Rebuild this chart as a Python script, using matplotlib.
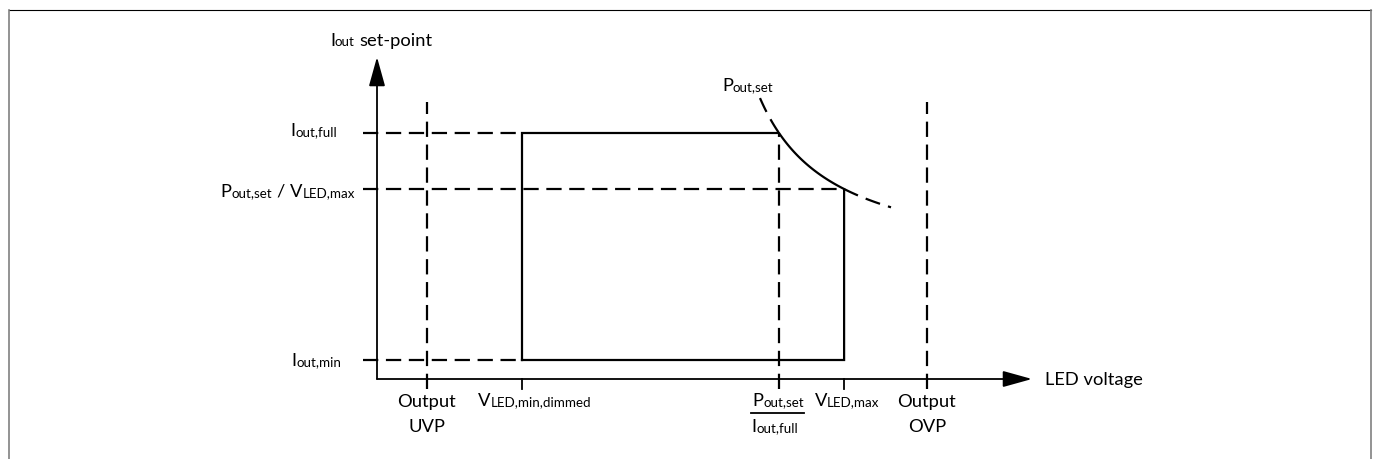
import matplotlib
matplotlib.use("Agg")
import matplotlib.pyplot as plt
import matplotlib.transforms as mtransforms
from matplotlib.lines import Line2D
import numpy as np

plt.rcParams["font.family"] = ["Lato", "DejaVu Sans"]
plt.rcParams["lines.scale_dashes"] = False

# schematic operating window (arbitrary units, current axis crosses at axis_v/axis_i)
axis_v = -30.9
axis_i = -1.10
x_axis_end = 34.6
y_axis_end = 2.12
uvp_v = -25.9
v_min_dimmed = -16.4
ovp_v = 24.1
i_full = 1.36
i_pv = 0.80
i_min = -0.91
p_out_set = 12.648
curve_v_span = [7.4, 20.5]
guide_top_i = 1.67

v_knee = p_out_set / i_full
v_max = p_out_set / i_pv

BIG = 13.2
SMALL = 9.6
LW = 1.6
DASH = (0, (11, 5.5))

fig = plt.figure(figsize=(13.74, 4.6), dpi=100)
ax = fig.add_axes([0, 0, 1, 1])
ax.set_xlim(-68.6, 68.8)
ax.set_ylim(-1.90, 2.70)
ax.axis("off")
renderer = fig.canvas.get_renderer()

tick_down = axis_i - 0.10
tick_left = axis_v - 1.4

# axes with arrows
arrow = dict(arrowstyle="-|>,head_length=1.8,head_width=0.5", mutation_scale=10,
             lw=1.3, color="black", shrinkA=0, shrinkB=0)
ax.annotate("", xy=(x_axis_end, axis_i), xytext=(axis_v, axis_i), arrowprops=arrow)
ax.annotate("", xy=(axis_v, y_axis_end), xytext=(axis_v, axis_i), arrowprops=arrow)

# dashed guides
for level, end in [(i_full, v_min_dimmed), (i_pv, v_max), (i_min, v_min_dimmed)]:
    ax.plot([tick_left, end], [level, level], color="black", lw=LW, ls=DASH)
for v in (uvp_v, ovp_v):
    ax.plot([v, v], [tick_down, guide_top_i], color="black", lw=LW, ls=DASH)
ax.plot([v_knee, v_knee], [tick_down, i_full], color="black", lw=LW, ls=DASH)

# solid ticks
for v in (v_min_dimmed, v_max):
    ax.plot([v, v], [tick_down, axis_i], color="black", lw=1.3)

# operating window
vc = np.linspace(v_knee, v_max, 60)
win_v = np.concatenate([[v_min_dimmed, v_min_dimmed], vc, [v_max, v_min_dimmed]])
win_i = np.concatenate([[i_min, i_full], p_out_set / vc, [i_min, i_min]])
ax.plot(win_v, win_i, color="black", lw=LW, solid_joinstyle="miter")

# constant power curve continuation
for a, b in [(curve_v_span[0], v_knee), (v_max, curve_v_span[1])]:
    vv = np.linspace(a, b, 40)
    ax.plot(vv, p_out_set / vv, color="black", lw=LW, ls=(0, (11, 6)))


def rich(x, y, parts, ha="left", dx=0.0, dy=0.0):
    texts, widths = [], []
    for s, size, gap in parts:
        t = ax.text(x, y, s, fontsize=size, va="baseline", ha="left", color="black")
        texts.append(t)
        widths.append(t.get_window_extent(renderer).width)
    gaps = [p[2] for p in parts]
    total = sum(widths) + sum(gaps)
    pos = {"left": 0.0, "center": -total / 2, "right": -total}[ha]
    for t, w, g in zip(texts, widths, gaps):
        pos += g
        t.set_transform(mtransforms.offset_copy(ax.transData, fig=fig, x=pos + dx, y=dy, units="dots"))
        pos += w
    return total


def sub(main, small, gap=0):
    return [(main, BIG, gap), (small, SMALL, 0)]


rich(axis_v, y_axis_end, sub("I", "out") + [("set-point", BIG, 5)], dx=-47, dy=12)
rich(axis_v, i_full, sub("I", "out,full"), ha="right", dx=-40, dy=-2)
rich(axis_v, i_pv, sub("P", "out,set") + [("/", BIG, 5)] + sub("V", "LED,max", 5),
     ha="right", dx=-22, dy=-7)
rich(axis_v, i_min, sub("I", "out,min"), ha="right", dx=-36, dy=-5)

for v, word in [(uvp_v, "UVP"), (ovp_v, "OVP")]:
    rich(v, axis_i, [("Output", BIG, 0)], ha="center", dy=-27)
    rich(v, axis_i, [(word, BIG, 0)], ha="center", dy=-52)

rich(v_min_dimmed, axis_i, sub("V", "LED,min,dimmed"), dx=-44, dy=-26)
w = rich(v_knee, axis_i, sub("P", "out,set"), ha="center", dx=-1, dy=-26)
rich(v_knee, axis_i, sub("I", "out,full"), ha="center", dx=-4, dy=-52)
bx, by = ax.transData.transform((v_knee, axis_i))
ax.add_line(Line2D([bx - w / 2 - 2, bx + w / 2 - 1], [by - 34, by - 34], lw=1.3,
                   color="black", transform=mtransforms.IdentityTransform()))
rich(v_max, axis_i, sub("V", "LED,max"), ha="center", dx=3, dy=-26)
rich(x_axis_end, axis_i, [("LED voltage", BIG, 0)], dx=13, dy=-5)
rich(curve_v_span[0], p_out_set / curve_v_span[0], sub("P", "out,set"), dx=-38, dy=8)

# frame
W, H = 1374, 460
fig.add_artist(Line2D([8.5 / W, 1370.5 / W], [1 - 10.5 / H] * 2, transform=fig.transFigure,
                      color="black", lw=0.8))
for xp in (8.5, 1370.5):
    fig.add_artist(Line2D([xp / W] * 2, [0, 1 - 10.5 / H], transform=fig.transFigure,
                          color="#808080", lw=1.2))

fig.savefig("out.png", dpi=100)
